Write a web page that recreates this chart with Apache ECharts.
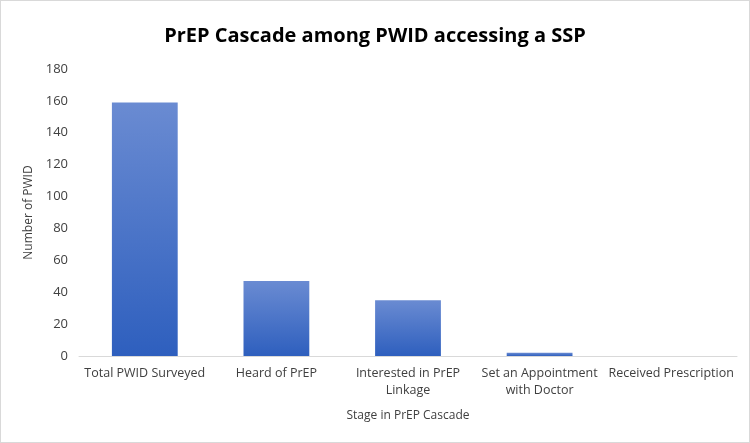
<!DOCTYPE html>
<html>
<head>
<meta charset="utf-8">
<script src="https://cdn.jsdelivr.net/npm/echarts@6/dist/echarts.min.js"></script>
<style>
  html, body { margin: 0; padding: 0; background: #fff; }
  #main { width: 748px; height: 441px; border: 1px solid #d9d9d9; }
</style>
</head>
<body>
<div id="main"></div>
<script>
// data
var stages = ['Total PWID Surveyed', 'Heard of PrEP', 'Interested in PrEP\nLinkage', 'Set an Appointment\nwith Doctor', 'Received Prescription'];
var counts = [159, 47, 35, 2, 0];
var yTicks = [0, 20, 40, 60, 80, 100, 120, 140, 160, 180];

var myChart = echarts.init(document.getElementById('main'));

var font = 'Open Sans';

var option = {
    animation: false,
    title: {
        text: 'PrEP Cascade among PWID accessing a SSP',
        left: 'center',
        top: 20,
        textStyle: { fontFamily: font, fontSize: 20, fontWeight: 'bold', color: '#000' }
    },
    grid: { left: 78, right: 12, top: 68, bottom: 86 },
    xAxis: {
        type: 'category',
        data: stages,
        name: 'Stage in PrEP Cascade',
        nameLocation: 'middle',
        nameGap: 54,
        nameTextStyle: { fontFamily: font, fontSize: 12, color: '#404040' },
        axisLine: { lineStyle: { color: '#d9d9d9', width: 1 } },
        axisTick: { show: false },
        axisLabel: { fontFamily: font, fontSize: 12.5, color: '#404040', interval: 0, margin: 9, lineHeight: 17 }
    },
    yAxis: {
        type: 'value',
        min: yTicks[0],
        max: yTicks[yTicks.length - 1],
        interval: yTicks[1] - yTicks[0],
        name: 'Number of PWID',
        nameLocation: 'middle',
        nameGap: 44,
        nameTextStyle: { fontFamily: font, fontSize: 12, color: '#404040' },
        axisLine: { show: false },
        axisTick: { show: false },
        splitLine: { show: false },
        axisLabel: { fontFamily: font, fontSize: 13, color: '#404040', margin: 11 }
    },
    series: [{
        type: 'bar',
        data: counts,
        barWidth: '50%',
        itemStyle: {
            color: new echarts.graphic.LinearGradient(0, 0, 0, 1, [
                { offset: 0, color: '#6a8bd2' },
                { offset: 1, color: '#2e5fbe' }
            ])
        }
    }]
};

myChart.setOption(option);
</script>
</body>
</html>
